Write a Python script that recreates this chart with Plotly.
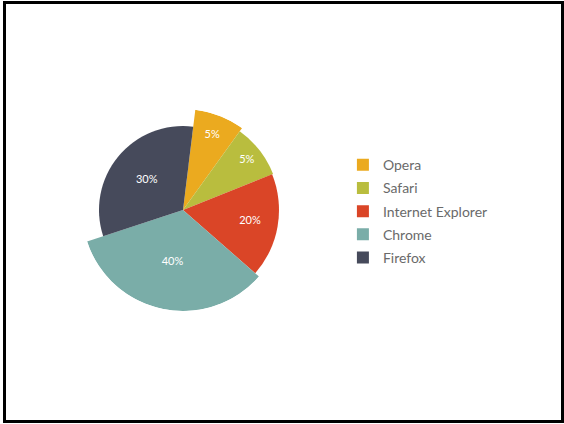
import plotly.graph_objects as go

labels = ["Opera", "Safari", "Internet Explorer", "Chrome", "Firefox"]
values = [8, 9, 17.5, 33.5, 32]
label_text = ["5%", "5%", "20%", "40%", "30%"]

# styles
colors = ["#EBAA1F", "#B9BD3E", "#DA4527", "#7AADA8", "#464A5B"]
slice_radius = [101, 97, 96, 101, 84]
text_radius = [80, 81, 68, 53, 47]
start_angle = 7

total = sum(values)
fig = go.Figure()
cum = start_angle
centers = []
for lab, v, col, rr in zip(labels, values, colors, slice_radius):
    span = v / total * 360
    c = cum + span / 2
    centers.append(c)
    fig.add_trace(go.Barpolar(
        r=[rr], theta=[c], width=[span], name=lab, legendgroup=lab,
        marker=dict(color=col, line=dict(width=0)),
        hovertemplate=lab + "<extra></extra>",
    ))
    cum += span

fig.add_trace(go.Scatterpolar(
    r=text_radius, theta=centers, text=label_text, mode="text",
    textfont=dict(family="Lato", size=11, color="white"),
    showlegend=False, hoverinfo="skip",
))

fig.update_layout(
    width=564, height=424,
    margin=dict(l=0, r=0, t=0, b=0),
    paper_bgcolor="white", plot_bgcolor="white",
    polar=dict(
        domain=dict(x=[82/564, 284/564], y=[113/424, 315/424]),
        bgcolor="white", bargap=0,
        radialaxis=dict(range=[0, 101], visible=False),
        angularaxis=dict(rotation=90, direction="clockwise", visible=False),
    ),
    legend=dict(x=0.608, y=0.502, xanchor="left", yanchor="middle",
                font=dict(family="Lato", size=14, color="#6a6a6a"),
                traceorder="grouped", tracegroupgap=2, itemwidth=30),
    shapes=[dict(type="rect", xref="paper", yref="paper",
                 x0=4.5/564, x1=562.5/564, y0=1-421.5/424, y1=1-2.5/424,
                 line=dict(color="black", width=3))],
)

fig.write_html("out.html")
